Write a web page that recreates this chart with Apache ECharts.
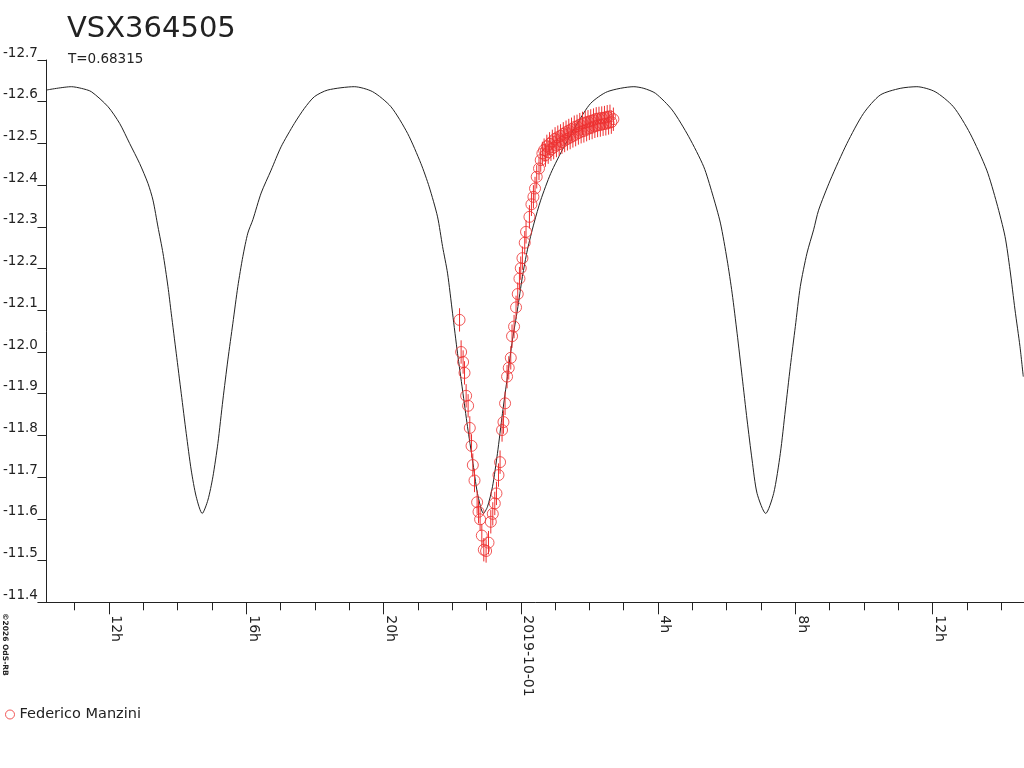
<!DOCTYPE html>
<html>
<head>
<meta charset="utf-8">
<script src="https://cdn.jsdelivr.net/npm/echarts@6/dist/echarts.min.js"></script>
<style>
html,body{margin:0;padding:0;background:#fff;}
#chart{width:1024px;height:768px;}
</style>
</head>
<body>
<div id="chart"></div>
<script>
// Hours counted from 2019-09-30 00:00
const xMin = 10.175;
const xMax = 38.668;
const xMajorTicks = [12, 16, 20, 24, 28, 32, 36];
const xMajorLabels = ['12h', '16h', '20h', '2019-10-01', '4h', '8h', '12h'];
const xMinorTicks = [11,12,13,14,15,16,17,18,19,20,21,22,23,24,25,26,27,28,29,30,31,32,33,34,35,36,37,38];

const yMin = -12.7;
const yMax = -11.4;
const yStep = 0.1;

// Model light curve (black line)
const modelH = [10.175, 10.903, 11.194, 11.485, 11.971, 12.309, 12.600, 12.891, 13.135, 13.281,
  13.426, 13.572, 13.717, 13.813, 13.959, 14.104, 14.250, 14.395, 14.541, 14.715,
  14.881, 15.027, 15.172, 15.318, 15.463, 15.609, 15.754, 15.900, 16.045, 16.191,
  16.433, 16.724, 17.015, 17.402, 17.693, 17.984, 18.374, 19.148, 19.683, 20.216,
  20.702, 21.089, 21.331, 21.575, 21.721, 21.866, 22.012, 22.157, 22.303, 22.448,
  22.594, 22.739, 22.914, 23.030, 23.176, 23.321, 23.467, 23.612, 23.758, 23.903,
  24.049, 24.194, 24.387, 24.582, 24.873, 25.260, 25.650, 26.037, 26.523, 27.297,
  27.588, 27.929, 28.415, 28.898, 29.334, 29.579, 29.820, 30.015, 30.161, 30.306,
  30.452, 30.597, 30.743, 30.888, 31.139, 31.371, 31.566, 31.712, 31.857, 32.003,
  32.148, 32.343, 32.536, 32.681, 33.022, 33.508, 33.991, 34.477, 35.059, 35.545,
  36.077, 36.610, 37.096, 37.582, 37.873, 38.115, 38.260, 38.406, 38.551, 38.647];
const modelMag = [-12.628, -12.636, -12.632, -12.624, -12.588, -12.548, -12.500, -12.452, -12.404, -12.364,
  -12.300, -12.237, -12.157, -12.093, -11.997, -11.901, -11.805, -11.717, -11.653, -11.613,
  -11.645, -11.701, -11.781, -11.885, -11.981, -12.069, -12.157, -12.229, -12.285, -12.317,
  -12.381, -12.436, -12.492, -12.548, -12.584, -12.612, -12.628, -12.636, -12.624, -12.588,
  -12.524, -12.452, -12.396, -12.324, -12.253, -12.189, -12.093, -11.997, -11.909, -11.821,
  -11.741, -11.661, -11.613, -11.629, -11.677, -11.757, -11.853, -11.941, -12.029, -12.101,
  -12.181, -12.245, -12.309, -12.364, -12.428, -12.492, -12.548, -12.596, -12.624, -12.636,
  -12.632, -12.620, -12.580, -12.516, -12.444, -12.381, -12.309, -12.221, -12.141, -12.045,
  -11.941, -11.837, -11.741, -11.661, -11.613, -11.661, -11.757, -11.861, -11.965, -12.061,
  -12.157, -12.237, -12.293, -12.340, -12.412, -12.500, -12.572, -12.616, -12.632, -12.636,
  -12.624, -12.588, -12.524, -12.436, -12.357, -12.277, -12.197, -12.101, -12.013, -11.941];

// Observations (Federico Manzini)
const obsH = [22.216, 22.262, 22.320, 22.361, 22.408, 22.466, 22.515, 22.565, 22.603, 22.652,
  22.728, 22.769, 22.815, 22.865, 22.923, 22.990, 23.060, 23.127, 23.185, 23.243,
  23.292, 23.351, 23.397, 23.455, 23.496, 23.543, 23.601, 23.650, 23.709, 23.746,
  23.805, 23.863, 23.912, 23.962, 24.000, 24.049, 24.116, 24.154, 24.253, 24.311,
  24.369, 24.416, 24.465, 24.532, 24.582, 24.631,
  24.68, 24.72, 24.76, 24.80, 24.84, 24.88, 24.92, 24.96, 25.00, 25.04,
  25.08, 25.12, 25.16, 25.20, 25.24, 25.28, 25.32, 25.36, 25.40, 25.44,
  25.48, 25.52, 25.56, 25.60, 25.64, 25.68, 25.72, 25.76, 25.80, 25.84,
  25.88, 25.92, 25.96, 26.00, 26.04, 26.08, 26.12, 26.16, 26.20, 26.24,
  26.28, 26.32, 26.36, 26.40, 26.44, 26.48, 26.52, 26.56, 26.60, 26.64, 26.70];
const obsMag = [-12.077, -12.000, -11.976, -11.950, -11.895, -11.871, -11.818, -11.775, -11.729, -11.692,
  -11.640, -11.617, -11.599, -11.560, -11.526, -11.523, -11.543, -11.593, -11.612, -11.637,
  -11.661, -11.705, -11.736, -11.813, -11.832, -11.877, -11.941, -11.962, -11.986, -12.038,
  -12.061, -12.107, -12.139, -12.176, -12.201, -12.225, -12.262, -12.288, -12.324, -12.354,
  -12.372, -12.392, -12.420, -12.440, -12.460, -12.476,
  -12.484, -12.472, -12.493, -12.479, -12.499, -12.486, -12.505, -12.490, -12.511, -12.495,
  -12.515, -12.498, -12.518, -12.503, -12.523, -12.507, -12.527, -12.511, -12.531, -12.514,
  -12.534, -12.518, -12.539, -12.521, -12.541, -12.525, -12.545, -12.528, -12.548, -12.530,
  -12.550, -12.533, -12.552, -12.536, -12.554, -12.538, -12.556, -12.541, -12.559, -12.543,
  -12.560, -12.544, -12.561, -12.546, -12.562, -12.547, -12.564, -12.549, -12.565, -12.551, -12.558];
const obsErr = 0.028;

const modelData = modelH.map((h, i) => [h, modelMag[i]]);
const obsData = obsH.map((h, i) => [h, obsMag[i]]);

const FONT = 'DejaVu Sans';
const RED = '#ee3030';
const INK = '#222222';

const chart = echarts.init(document.getElementById('chart'), null, {renderer: 'canvas'});

chart.setOption({
  animation: false,
  backgroundColor: '#ffffff',
  title: [
    {text: 'VSX364505', left: 62, top: 10,
     textStyle: {fontFamily: FONT, fontSize: 29, fontWeight: 'normal', color: INK}},
    {text: 'T=0.68315', left: 63, top: 47,
     textStyle: {fontFamily: FONT, fontSize: 13.5, fontWeight: 'normal', color: INK}}
  ],
  legend: {
    left: 0, top: 702, itemWidth: 9, itemHeight: 9, itemGap: 10,
    icon: 'circle',
    data: [{name: 'Federico Manzini', itemStyle: {color: '#fff', borderColor: RED, borderWidth: 1}}],
    textStyle: {fontFamily: FONT, fontSize: 14.5, color: INK}
  },
  graphic: [{
    type: 'text', x: 9, y: 613, rotation: -Math.PI / 2,
    style: {text: '\u00a92026 OdS-RB', font: 'bold 7.5px "DejaVu Sans"', fill: INK,
            align: 'left', verticalAlign: 'top'}
  }],
  grid: {left: 45, right: 0, top: 60, bottom: 165.7, containLabel: false},
  xAxis: [{
    type: 'value', min: xMin, max: xMax, position: 'bottom',
    axisLine: {show: true, lineStyle: {color: INK, width: 1}},
    axisTick: {show: true, customValues: xMajorTicks, length: 12, lineStyle: {color: INK}},
    axisLabel: {
      customValues: xMajorTicks, rotate: -90, margin: 13, verticalAlign: 'bottom',
      fontFamily: FONT, fontSize: 14, color: INK,
      formatter: v => {
        const i = xMajorTicks.findIndex(t => Math.abs(t - v) < 1e-6);
        return i >= 0 ? xMajorLabels[i] : '';
      }
    },
    splitLine: {show: false}
  }, {
    type: 'value', min: xMin, max: xMax, position: 'bottom',
    axisLine: {show: false},
    axisTick: {show: true, customValues: xMinorTicks, length: 8, lineStyle: {color: INK}},
    axisLabel: {show: false},
    splitLine: {show: false}
  }],
  yAxis: {
    type: 'value', inverse: true, min: yMin, max: yMax, interval: yStep,
    axisLine: {show: true, lineStyle: {color: INK, width: 1}},
    axisTick: {show: true, length: 9, lineStyle: {color: INK}},
    axisLabel: {
      margin: 8.5, verticalAlign: 'bottom', fontFamily: FONT, fontSize: 13.5, color: INK,
      formatter: v => v.toFixed(1)
    },
    splitLine: {show: false}
  },
  series: [
    {
      name: 'model', type: 'line', data: modelData, xAxisIndex: 0,
      showSymbol: false, smooth: 0.25,
      lineStyle: {color: INK, width: 1}, z: 2, silent: true
    },
    {
      name: 'errors', type: 'custom', data: obsData, xAxisIndex: 0, z: 3, silent: true,
      renderItem: (params, api) => {
        const h = api.value(0), m = api.value(1);
        const p1 = api.coord([h, m - obsErr]);
        const p2 = api.coord([h, m + obsErr]);
        return {type: 'line', shape: {x1: p1[0], y1: p1[1], x2: p2[0], y2: p2[1]},
                style: {stroke: RED, lineWidth: 1}};
      }
    },
    {
      name: 'Federico Manzini', type: 'scatter', data: obsData, xAxisIndex: 0,
      symbol: 'circle', symbolSize: 11,
      itemStyle: {color: 'rgba(255,255,255,0)', borderColor: RED, borderWidth: 1},
      z: 4
    }
  ]
});
</script>
</body>
</html>
